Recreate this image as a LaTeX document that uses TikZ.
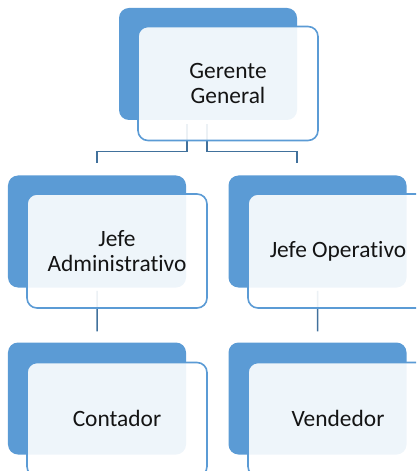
\documentclass[tikz,border=0pt]{standalone}
\usepackage{fontspec}
\setmainfont{Carlito}[Ligatures={NoCommon,NoRequired,NoContextual}]
\definecolor{accent}{RGB}{91,155,213}
\definecolor{connblue}{RGB}{65,113,156}
\pgfdeclarelayer{bg}
\pgfsetlayers{bg,main}
\begin{document}
\begin{tikzpicture}[x=1bp,y=-1bp,
  backbox/.style={rectangle, rounded corners=10bp, fill=accent, draw=none,
    minimum width=178bp, minimum height=112bp, inner sep=0pt},
  frontbox/.style={rectangle, rounded corners=10bp, draw=accent, line width=1.6bp,
    fill=white, fill opacity=0.9, text opacity=1, draw opacity=1,
    minimum width=180bp, minimum height=114bp, inner sep=0pt, align=center,
    font=\fontsize{23.5}{25.5}\selectfont, text=black!92},
  conn/.style={draw=connblue, line width=1.5bp}]
\useasboundingbox (0,0) rectangle (416,471);
\clip (0,0) rectangle (416,471);
% boxes
\node[backbox] (ggb) at (208,64) {};
\node[frontbox] (gg) at (228,83.5) {Gerente\\General};
\node[backbox] (jab) at (97,231.5) {};
\node[frontbox] (ja) at (117,251) {Jefe\\Administrativo};
\node[backbox] (job) at (317.5,231.5) {};
\node[frontbox] (jo) at (338,251) {Jefe Operativo};
\node[backbox] (cob) at (97,398.5) {};
\node[frontbox] (co) at (117,419.5) {\raisebox{3bp}{Contador}};
\node[backbox] (veb) at (317.5,398.5) {};
\node[frontbox] (ve) at (338,419.5) {\raisebox{3bp}{Vendedor}};
% connectors, underneath the boxes
\begin{pgfonlayer}{bg}
\draw[conn] ([xshift=-41bp,yshift=17bp]gg.south) -- ++(0,27) -| ([yshift=12bp]jab.north);
\draw[conn] ([xshift=-21bp,yshift=17bp]gg.south) -- ++(0,27) -| ([xshift=-20.5bp,yshift=12bp]job.north);
\draw[conn] ([xshift=-20bp,yshift=18bp]ja.south) -- ([yshift=11bp]cob.north);
\draw[conn] ([xshift=-20.5bp,yshift=18bp]jo.south) -- ([yshift=11bp]veb.north);
\end{pgfonlayer}
\end{tikzpicture}
\end{document}
